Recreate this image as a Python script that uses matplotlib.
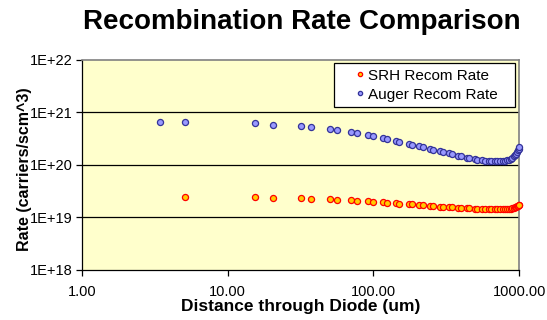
import matplotlib
matplotlib.use("Agg")
import matplotlib.pyplot as plt
from matplotlib.ticker import FixedLocator, FixedFormatter, NullLocator

plt.rcParams['font.family'] = ['Liberation Sans', 'DejaVu Sans']

# distance through diode (um)
dist = [3.43, 5.09, 15.4, 20.5, 31.8, 37.3, 50.4, 56.3, 70.2, 77.2, 91.8, 99.4,
        116, 124, 143, 151, 175, 185, 207, 218, 245, 258, 287, 302, 329, 346,
        381, 397, 437, 455, 496, 517, 556, 580, 619, 645, 680, 709, 740, 770,
        800, 830, 855, 880, 900, 920, 940, 955, 970, 982, 992, 1000]

# Auger rate in units of 1e20
auger = [6.56, 6.47, 6.2, 5.8, 5.5, 5.2, 4.82, 4.55, 4.17, 3.99, 3.7, 3.55,
         3.29, 3.1, 2.84, 2.72, 2.53, 2.42, 2.29, 2.19, 2.03, 1.94, 1.81, 1.75,
         1.66, 1.58, 1.49, 1.47, 1.37, 1.33, 1.29, 1.25, 1.22, 1.20, 1.19, 1.18,
         1.18, 1.18, 1.18, 1.19, 1.20, 1.22, 1.26, 1.31, 1.37, 1.45, 1.55, 1.64,
         1.75, 1.88, 2.02, 2.2]

# SRH rate in units of 1e19 (no point at the first distance)
srh = [2.43, 2.43, 2.36, 2.32, 2.25, 2.2, 2.13, 2.1, 2.07, 2.01, 1.98,
       1.92, 1.9, 1.84, 1.83, 1.79, 1.76, 1.72, 1.70, 1.65, 1.63, 1.59, 1.57,
       1.55, 1.54, 1.52, 1.51, 1.48, 1.47, 1.45, 1.44, 1.43, 1.43, 1.42, 1.42,
       1.42, 1.42, 1.42, 1.42, 1.42, 1.43, 1.44, 1.46, 1.48, 1.51, 1.54, 1.57,
       1.61, 1.64, 1.68, 1.71]

x_ticks = [1, 10, 100, 1000]
x_labels = ['1.00', '10.00', '100.00', '1000.00']
y_ticks = [1e18, 1e19, 1e20, 1e21, 1e22]
y_labels = ['1E+18', '1E+19', '1E+20', '1E+21', '1E+22']

fig = plt.figure(figsize=(5.47, 3.2), dpi=100)
ax = fig.add_axes([0.150, 0.157, 0.799, 0.656])
ax.set_facecolor('#FFFFCC')

ax.set_xscale('log')
ax.set_yscale('log')
ax.set_xlim(1, 1000)
ax.set_ylim(1e18, 1e22)

for yt in y_ticks[1:-1]:
    ax.axhline(yt, color='black', lw=0.9, zorder=1)

ax.plot(dist[1:], [v * 1e19 for v in srh], 'o', ms=4.4, mfc='#FFCC00',
        mec='#FF0000', mew=0.9, label='SRH Recom Rate', zorder=3, clip_on=False)
ax.plot(dist, [v * 1e20 for v in auger], 'o', ms=4.4, mfc='#9999FF',
        mec='#333399', mew=0.9, label='Auger Recom Rate', zorder=3, clip_on=False)

ax.xaxis.set_major_locator(FixedLocator(x_ticks))
ax.xaxis.set_major_formatter(FixedFormatter(x_labels))
ax.xaxis.set_minor_locator(NullLocator())
ax.yaxis.set_major_locator(FixedLocator(y_ticks))
ax.yaxis.set_major_formatter(FixedFormatter(y_labels))
ax.yaxis.set_minor_locator(NullLocator())
ax.tick_params(direction='out', length=4, width=0.9, labelsize=10.5)
ax.tick_params(axis='x', pad=7)
ax.tick_params(axis='y', pad=3)

for side in ['top', 'right']:
    ax.spines[side].set_color('#808080')
    ax.spines[side].set_linewidth(1.2)
for side in ['left', 'bottom']:
    ax.spines[side].set_color('black')
    ax.spines[side].set_linewidth(0.9)

ax.set_xlabel('Distance through Diode (um)', fontsize=12.5, fontweight='bold', labelpad=0)
ax.set_ylabel('Rate (carriers/scm^3)', fontsize=11.5, fontweight='bold')
ax.yaxis.set_label_coords(-0.114, 0.48)
fig.text(0.552, 0.93, 'Recombination Rate Comparison', fontsize=20,
         fontweight='bold', ha='center', va='center')

leg = ax.legend(loc='upper left', bbox_to_anchor=(0.577, 0.781, 0.414, 0.205),
                mode='expand', fontsize=11, frameon=True, fancybox=False,
                handlelength=2.6, handletextpad=-0.75, borderpad=0.38,
                labelspacing=0.33, markerscale=0.7, borderaxespad=0)
leg.get_frame().set_edgecolor('black')
leg.get_frame().set_linewidth(0.9)
leg.get_frame().set_facecolor('white')
leg.get_frame().set_alpha(1)

fig.savefig('out.png', dpi=100, facecolor='white')
